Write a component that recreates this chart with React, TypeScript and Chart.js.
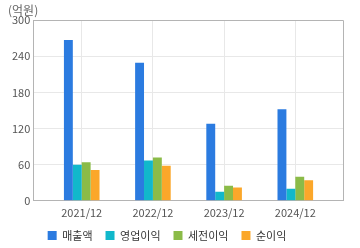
import React, { useEffect, useRef } from "react";
import { Chart, registerables } from "chart.js";

Chart.register(...registerables);

const categories = ["2021/12", "2022/12", "2023/12", "2024/12"];
const seriesNames = ["매출액", "영업이익", "세전이익", "순이익"];
const revenue = [267, 229, 128, 152];
const operatingProfit = [60, 67, 15, 20];
const pretaxProfit = [64, 72, 25, 40];
const netProfit = [51, 58, 22, 34];
const seriesColors = ["#2b7be0", "#11b8cb", "#8bbb48", "#fba72a"];
const yTicks = [0, 60, 120, 180, 240, 300];
const unitLabel = "(억원)";

const FONT = "'Noto Sans CJK KR', 'Noto Sans', sans-serif";

export default function App() {
  const ref = useRef<HTMLCanvasElement | null>(null);

  useEffect(() => {
    document.body.style.margin = "0";
    if (!ref.current) return;
    const allSeries = [revenue, operatingProfit, pretaxProfit, netProfit];

    const framePlugin = {
      id: "frame",
      afterLayout(chart: any) {
        const lg = chart.legend;
        if (lg) {
          lg.left -= 9;
          lg.right -= 9;
          lg.top -= 7;
          lg.bottom -= 7;
        }
      },
      afterDraw(chart: any) {
        const { ctx, chartArea } = chart;
        ctx.save();
        ctx.strokeStyle = "#b4b4b4";
        ctx.lineWidth = 1;
        ctx.beginPath();
        ctx.moveTo(chartArea.left, chartArea.top + 0.5);
        ctx.lineTo(chartArea.right + 0.5, chartArea.top + 0.5);
        ctx.lineTo(chartArea.right + 0.5, chartArea.bottom);
        ctx.stroke();
        ctx.fillStyle = "#666";
        ctx.font = "12px " + FONT;
        ctx.textBaseline = "middle";
        ctx.textAlign = "left";
        ctx.fillText(unitLabel, 8, 10);
        ctx.restore();
      },
    };

    const chart = new Chart(ref.current, {
      type: "bar",
      data: {
        datasets: allSeries.map((vals, si) => ({
          label: seriesNames[si],
          data: vals.map((v, i) => ({ x: i, y: v })),
          backgroundColor: seriesColors[si],
          borderWidth: 0,
          categoryPercentage: 0.5,
          barPercentage: 1.0,
        })),
      },
      options: {
        animation: false,
        responsive: false,
        maintainAspectRatio: false,
        layout: { padding: { left: 9, right: 17, top: 20, bottom: 0 } },
        plugins: {
          legend: {
            position: "bottom",
            maxHeight: 24,
            labels: {
              boxWidth: 9,
              boxHeight: 9,
              padding: 13,
              color: "#333",
              font: { family: FONT, size: 11 },
            },
          },
          tooltip: { enabled: false },
        },
        scales: {
          x: {
            type: "linear",
            offset: false,
            min: -0.68,
            max: 3.67,
            afterBuildTicks: (scale: any) => {
              scale.ticks = categories.map((_, i) => ({ value: i }));
            },
            ticks: {
              callback: (v: any) => categories[v as number] ?? "",
              color: "#555",
              font: { family: FONT, size: 11 },
              padding: 5,
              maxRotation: 0,
            },
            grid: { color: "#e8e8e8", drawTicks: false, offset: false },
            border: { color: "#b4b4b4" },
          },
          y: {
            min: 0,
            max: 300,
            afterBuildTicks: (scale: any) => {
              scale.ticks = yTicks.map((v) => ({ value: v }));
            },
            ticks: {
              color: "#555",
              font: { family: FONT, size: 11 },
              padding: 3,
            },
            grid: { color: "#e8e8e8", drawTicks: false },
            border: { color: "#b4b4b4" },
          },
        },
      },
      plugins: [framePlugin],
    } as any);
    return () => chart.destroy();
  }, []);

  return (
    <div style={{ position: "fixed", left: 0, top: 0, width: 360, height: 248 }}>
      <canvas ref={ref} width={360} height={248} style={{ width: 360, height: 248 }} />
    </div>
  );
}
